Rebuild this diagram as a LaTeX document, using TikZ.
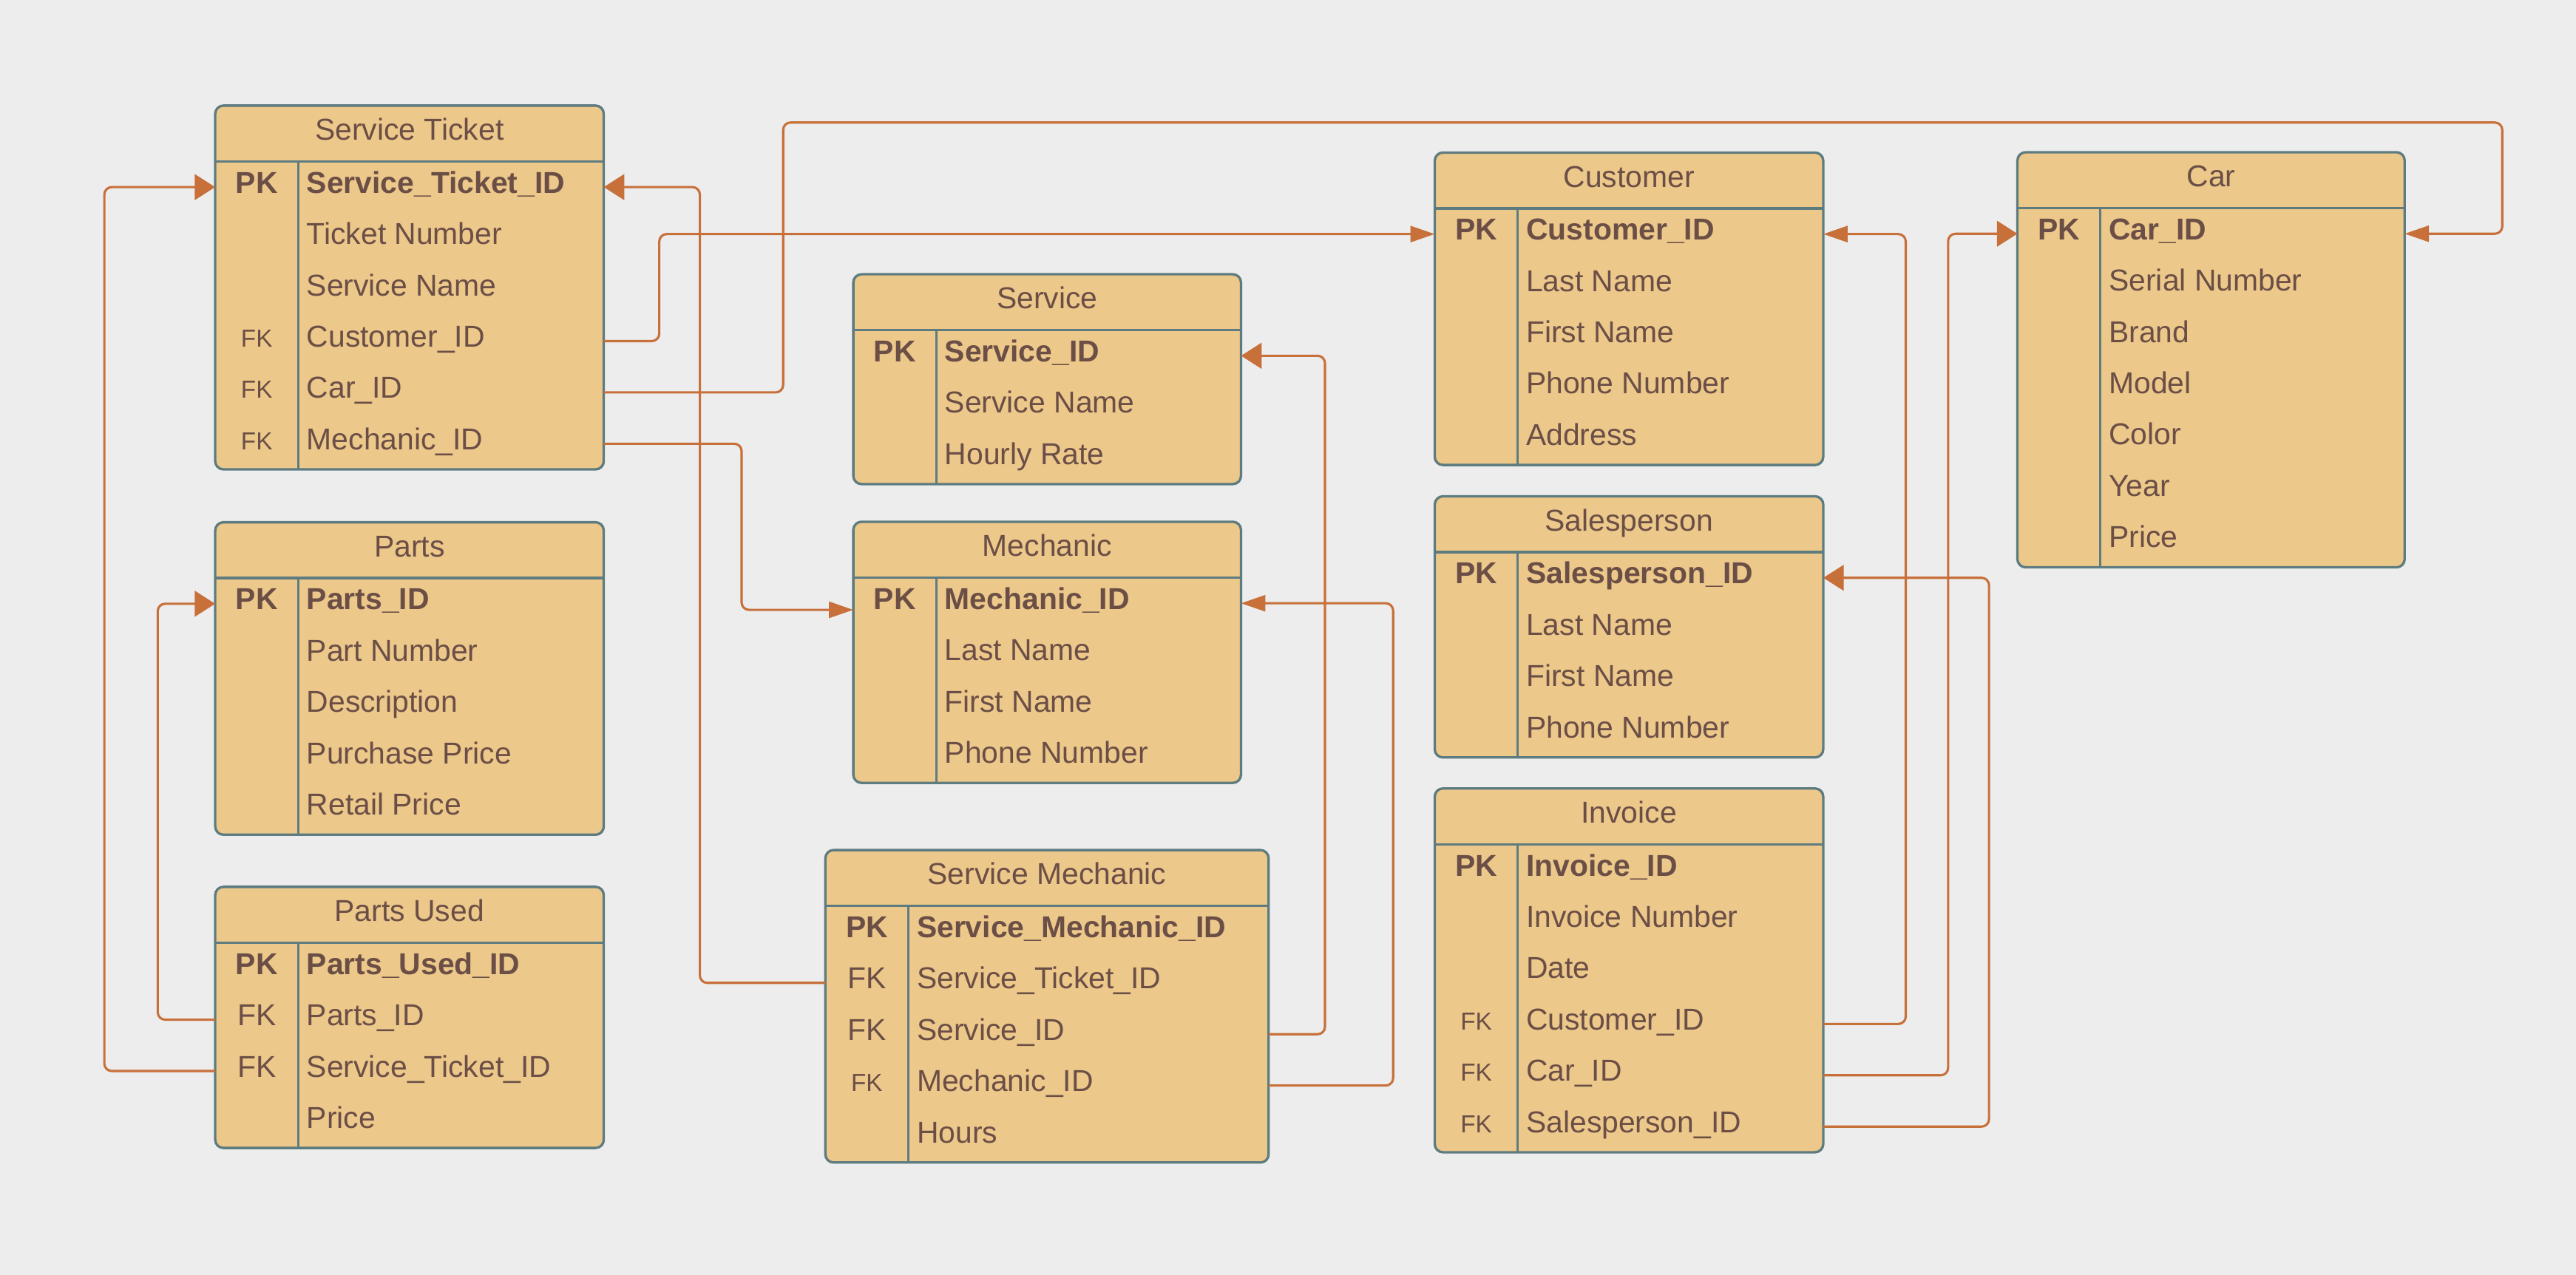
\documentclass[tikz,border=0pt]{standalone}
\usepackage{fontspec}
\setmainfont{Liberation Sans}
\usetikzlibrary{arrows.meta,calc}
\definecolor{bgc}{HTML}{EDEDED}
\definecolor{fillc}{HTML}{ECC88A}
\definecolor{bordc}{HTML}{5E7C80}
\definecolor{textc}{HTML}{6B4E46}
\definecolor{linec}{HTML}{C8703A}

\newcommand{\kPK}{\textbf{PK}}
\newcommand{\kFK}{FK}
\newcommand{\kSFK}{{\fontsize{15}{18}\selectfont FK}}
\newcommand{\kNK}{}

\tikzset{
  tablebox/.style={draw=bordc, fill=fillc, line width=1.5pt, rounded corners=5pt, outer sep=0pt, inner sep=0pt},
  tableline/.style={draw=bordc, line width=1.5pt},
  celltext/.style={text=textc, font=\fontsize{18.4}{22}\selectfont, inner sep=0pt},
  conn/.style={draw=linec, line width=1.4pt, rounded corners=4.5pt},
  bigtip/.style={-{Triangle[length=12.5pt,width=15.6pt]}},
  thintip/.style={-{Triangle[length=14.8pt,width=9.8pt]}}
}

% name, x, y, width, number of rows, title, rows
\newcommand{\ertable}[7]{%
  \node[tablebox, minimum width=#4pt, minimum height={34pt+#5*31.25pt}, anchor=north west] (#1) at (#2,#3) {};
  \draw[tableline] ([yshift=-34pt]#1.north west) -- ([yshift=-34pt]#1.north east);
  \draw[tableline] ([xshift=50.5pt,yshift=-34pt]#1.north west) -- ([xshift=50.5pt]#1.south west);
  \node[celltext, anchor=base] (#1-title) at ([yshift=-21pt]#1.north) {#6};
  \foreach \k/\f [count=\i] in {#7} {
    \coordinate (#1-r\i) at (#2+#4/2, #3+34+31.25*\i-15.625);
    \node[celltext, anchor=base] (#1-k\i) at (#2+25.25, #3+34+31.25*\i-15.625+3.6) {\k};
    \node[celltext, anchor=base west] (#1-f\i) at (#2+55.5, #3+34+31.25*\i-15.625+3.6) {\f};
  }
}

\begin{document}
\begin{tikzpicture}[x=1pt, y=-1pt]
\fill[bgc] (0,0) rectangle (1568,776.3);
\useasboundingbox (0,0) rectangle (1568,776.3);

\ertable{st}{131}{64.3}{236.5}{6}{Service Ticket}{\kPK/\textbf{Service\_Ticket\_ID}, \kNK/Ticket Number, \kNK/Service Name, \kSFK/Customer\_ID, \kSFK/Car\_ID, \kSFK/Mechanic\_ID}
\ertable{pa}{131}{318}{236.5}{5}{Parts}{\kPK/\textbf{Parts\_ID}, \kNK/Part Number, \kNK/Description, \kNK/Purchase Price, \kNK/Retail Price}
\ertable{pu}{131}{540}{236.5}{4}{Parts Used}{\kPK/\textbf{Parts\_Used\_ID}, \kFK/Parts\_ID, \kFK/Service\_Ticket\_ID, \kNK/Price}
\ertable{sv}{519.4}{167}{236}{3}{Service}{\kPK/\textbf{Service\_ID}, \kNK/Service Name, \kNK/Hourly Rate}
\ertable{me}{519.4}{317.7}{236}{4}{Mechanic}{\kPK/\textbf{Mechanic\_ID}, \kNK/Last Name, \kNK/First Name, \kNK/Phone Number}
\ertable{sm}{502.4}{517.6}{269.8}{5}{Service Mechanic}{\kPK/\textbf{Service\_Mechanic\_ID}, \kFK/Service\_Ticket\_ID, \kFK/Service\_ID, \kSFK/Mechanic\_ID, \kNK/Hours}
\ertable{cu}{873.3}{92.9}{236.5}{5}{Customer}{\kPK/\textbf{Customer\_ID}, \kNK/Last Name, \kNK/First Name, \kNK/Phone Number, \kNK/Address}
\ertable{sp}{873.3}{302.2}{236.5}{4}{Salesperson}{\kPK/\textbf{Salesperson\_ID}, \kNK/Last Name, \kNK/First Name, \kNK/Phone Number}
\ertable{in}{873.3}{480.1}{236.5}{6}{Invoice}{\kPK/\textbf{Invoice\_ID}, \kNK/Invoice Number, \kNK/Date, \kSFK/Customer\_ID, \kSFK/Car\_ID, \kSFK/Salesperson\_ID}
\ertable{car}{1228}{92.7}{235.7}{7}{Car}{\kPK/\textbf{Car\_ID}, \kNK/Serial Number, \kNK/Brand, \kNK/Model, \kNK/Color, \kNK/Year, \kNK/Price}

% connectors
\draw[conn, thintip] (st.east |- st-r4) -- ++(33.8,0) |- (cu.west |- cu-r1);
\draw[conn, thintip] (st.east |- st-r5) -- ++(109.2,0) |- ([xshift=59.4pt,yshift=18.1pt]car.north east) |- (car.east |- car-r1);
\draw[conn, thintip] (st.east |- st-r6) -- ++(83.9,0) |- ([yshift=-4pt]me.west |- me-r1);
\draw[conn, bigtip] (sm.west |- sm-r2) -- ++(-76.4,0) |- (st.east |- st-r1);
\draw[conn, bigtip] (sm.east |- sm-r3) -- ++(34.3,0) |- (sv.east |- sv-r1);
\draw[conn, thintip] (sm.east |- sm-r4) -- ++(75.8,0) |- (me.east |- me-r1);
\draw[conn, bigtip] (pu.west |- pu-r2) -- ++(-35,0) |- (pa.west |- pa-r1);
\draw[conn, bigtip] (pu.west |- pu-r3) -- ++(-67.5,0) |- (st.west |- st-r1);
\draw[conn, thintip] (in.east |- in-r4) -- ++(50.2,0) |- (cu.east |- cu-r1);
\draw[conn, bigtip] (in.east |- in-r5) -- ++(76,0) |- (car.west |- car-r1);
\draw[conn, bigtip] (in.east |- in-r6) -- ++(100.9,0) |- (sp.east |- sp-r1);
\end{tikzpicture}
\end{document}
